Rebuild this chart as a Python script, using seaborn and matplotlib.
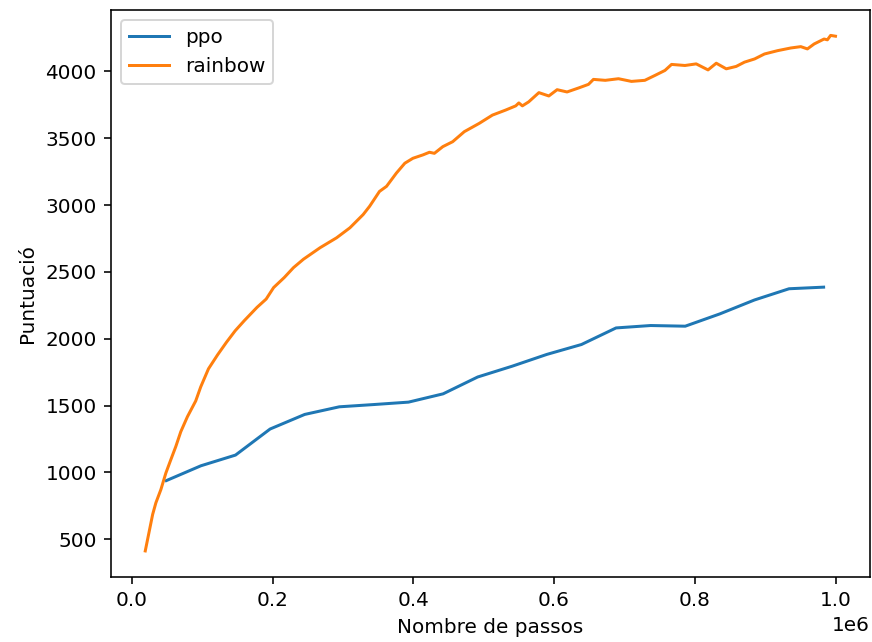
import matplotlib
matplotlib.use("Agg")
import matplotlib.pyplot as plt
import seaborn as sns
import pandas as pd

# ---- data ----
ppo_steps = [k * 49152 for k in range(1, 21)]
ppo_score = [939, 1050, 1130, 1325, 1434, 1491, 1508, 1526, 1588, 1714,
             1795, 1883, 1957, 2081, 2099, 2094, 2186, 2290, 2374, 2386]

rainbow_steps_m = [0.0192, 0.0297, 0.0343, 0.0414, 0.0485, 0.0555, 0.0626, 0.0697,
                   0.0791, 0.0909, 0.098, 0.109, 0.122, 0.1346, 0.147, 0.160,
                   0.178, 0.191, 0.2016, 0.2167, 0.2298, 0.244, 0.2676, 0.291,
                   0.310, 0.3288, 0.338, 0.352, 0.362, 0.376, 0.388, 0.3995,
                   0.4136, 0.423, 0.430, 0.442, 0.456, 0.4725, 0.4937, 0.5125,
                   0.531, 0.5456, 0.550, 0.555, 0.564, 0.5785, 0.5926, 0.6044,
                   0.6185, 0.635, 0.649, 0.656, 0.6728, 0.6916, 0.710, 0.729,
                   0.7435, 0.7576, 0.767, 0.786, 0.802, 0.8188, 0.8305, 0.8447,
                   0.8588, 0.8706, 0.885, 0.899, 0.9177, 0.9365, 0.9506, 0.960,
                   0.9696, 0.9837, 0.9884, 0.993, 0.9999]
rainbow_score = [413, 686, 773, 872, 996, 1095, 1194, 1305,
                 1417, 1535, 1640, 1775, 1880, 1974, 2060, 2136,
                 2235, 2297, 2383, 2458, 2532, 2595, 2681, 2755,
                 2830, 2929, 2991, 3102, 3140, 3239, 3313, 3350,
                 3375, 3395, 3387, 3437, 3474, 3549, 3611, 3673,
                 3710, 3742, 3764, 3742, 3772, 3841, 3816, 3863,
                 3846, 3876, 3903, 3940, 3933, 3945, 3925, 3933,
                 3970, 4007, 4052, 4044, 4056, 4011, 4061, 4019,
                 4037, 4069, 4093, 4130, 4155, 4175, 4185, 4168,
                 4205, 4242, 4236, 4269, 4263]

series_names = ["ppo", "rainbow"]
x_label = "Nombre de passos"
y_label = "Puntuació"

ppo_df = pd.DataFrame({"steps": ppo_steps, "score": ppo_score})
rainbow_df = pd.DataFrame({"steps": [v * 1e6 for v in rainbow_steps_m],
                           "score": rainbow_score})

DPI = 144
fig = plt.figure(figsize=(872 / DPI, 642 / DPI), dpi=DPI)
ax = fig.add_axes([0.127, 0.1017, 0.9977 - 0.127, 0.985 - 0.1017])

sns.lineplot(data=ppo_df, x="steps", y="score", ax=ax, color="C0",
             label=series_names[0])
sns.lineplot(data=rainbow_df, x="steps", y="score", ax=ax, color="C1",
             label=series_names[1])

ax.set_xlabel(x_label)
ax.set_ylabel(y_label)
ax.legend(loc="upper left")

fig.savefig("out.png", dpi=DPI)
